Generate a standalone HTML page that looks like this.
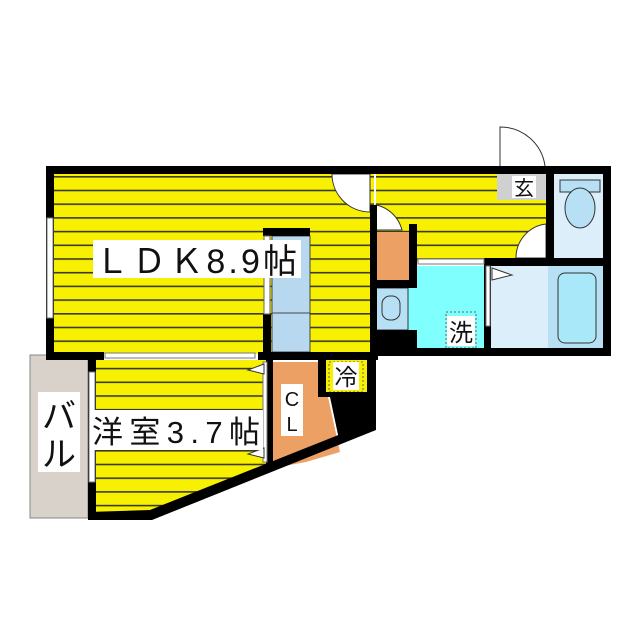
<!DOCTYPE html>
<html><head><meta charset="utf-8"><style>
html,body{margin:0;padding:0;background:#fff;width:640px;height:640px;overflow:hidden}
text{font-family:"Liberation Sans","Noto Sans CJK JP",sans-serif}
</style></head><body>
<svg width="640" height="640" viewBox="0 0 640 640" xmlns="http://www.w3.org/2000/svg">
<defs>
<pattern id="st" x="0" y="176" width="10" height="13.7" patternUnits="userSpaceOnUse">
<rect width="10" height="13.7" fill="#f7f000"/>
<rect y="0" width="10" height="1.6" fill="#3a3a20"/>
</pattern>
</defs>
<!-- balcony -->
<rect x="30" y="355" width="58" height="163" fill="#d8d2ca" stroke="#888" stroke-width="1"/>
<!-- LDK -->
<rect x="54" y="174" width="320" height="180" fill="url(#st)"/>
<!-- right top hallway -->
<rect x="376" y="174" width="172" height="88" fill="url(#st)"/>
<!-- western room -->
<polygon points="95,360 268,360 268,468 150,512 95,512" fill="url(#st)"/>
<!-- 冷 -->
<rect x="325" y="358" width="42" height="36" fill="#f7f000"/>
<rect x="329" y="362" width="34" height="30" fill="none" stroke="#666" stroke-dasharray="2,2"/>
<!-- CL -->
<polygon points="273,362 320,362 320,397 328,397 340,452 306,462 273,468" fill="#eda064"/>
<!-- black chunk -->
<polygon points="320,392 376,392 376,428 340,444 330,397 320,397" fill="#000"/>
<!-- orange storage -->
<rect x="376" y="232" width="33" height="48" fill="#eda064"/>
<!-- washroom -->
<rect x="417" y="266" width="70" height="84" fill="#80ffff"/>
<rect x="376" y="286" width="45" height="64" fill="#80ffff"/>
<rect x="376" y="288" width="32" height="42" fill="#b8e0f5" stroke="#333" stroke-width="1"/>
<rect x="382" y="296" width="18" height="24" rx="8" fill="#b8e0f5" stroke="#333"/>
<rect x="446" y="312" width="30" height="36" fill="none" stroke="#666" stroke-dasharray="2,2"/>
<rect x="386" y="330" width="31" height="26" fill="#000"/>
<!-- bath -->
<rect x="490" y="266" width="113" height="84" fill="#dbeefa"/>
<rect x="548" y="266" width="55" height="84" fill="#b8e0f5"/>
<rect x="558" y="273" width="38" height="70" rx="7" fill="#a8e8f8" stroke="#333"/>
<polygon points="492,268 512,275 492,280" fill="#fff" stroke="#333"/>
<!-- toilet -->
<rect x="553" y="174" width="50" height="86" fill="#dbeefa"/>
<rect x="560" y="180" width="40" height="12" fill="#b8e0f5" stroke="#333"/>
<ellipse cx="580" cy="208" rx="15" ry="20" fill="#b8e0f5" stroke="#333"/>
<!-- genkan -->
<rect x="497" y="174" width="50" height="26" fill="#d0d0d0"/>
<path d="M500,166 L500,127 A45,45 0 0 1 545,166" fill="#fff" stroke="#333"/>
<!-- fridge/kitchen column -->
<rect x="272" y="236" width="38" height="116" fill="#b8d8f0" stroke="#444" stroke-width="1"/>
<line x1="272" y1="313" x2="310" y2="313" stroke="#444"/>
<rect x="263" y="228" width="47" height="8" fill="#000"/>
<rect x="263" y="314" width="8" height="40" fill="#000"/>
<rect x="264" y="236" width="6" height="78" fill="#fff" stroke="#666"/>
<!-- door arcs -->
<path d="M370,174 L332,174 A38,38 0 0 0 370,212 Z" fill="#fff" stroke="#333"/>
<path d="M376,205 A34,34 0 0 1 402,230 L376,230 Z" fill="#fff" stroke="#333"/>
<path d="M546,224 A34,34 0 0 0 516,258 L546,258 Z" fill="#fff" stroke="#333"/>
<!-- walls -->
<g fill="#000">
<rect x="46" y="166" width="564" height="8"/>
<rect x="46" y="166" width="8" height="194"/>
<rect x="603" y="166" width="8" height="190"/>
<rect x="46" y="352" width="58" height="8"/>
<rect x="258" y="352" width="120" height="8"/>
<rect x="370" y="205" width="7" height="135"/>
<rect x="370" y="330" width="16" height="26"/>
<rect x="384" y="348" width="227" height="8"/>
<rect x="546" y="166" width="8" height="92"/>
<rect x="484" y="258" width="127" height="8"/>
<rect x="409" y="224" width="8" height="64"/>
<rect x="376" y="280" width="41" height="8"/>
<rect x="484" y="258" width="7" height="98"/>
<rect x="88" y="352" width="8" height="168"/>
<rect x="266" y="360" width="7" height="110"/>
<rect x="318" y="352" width="8" height="45"/>
<rect x="367" y="352" width="9" height="76"/>
</g>
<polygon points="88,512 150,510 376,420 376,430 152,520 88,520" fill="#000"/>
<!-- windows / openings -->
<rect x="47" y="218" width="6" height="100" fill="#fff" stroke="#777"/>
<rect x="89" y="372" width="6" height="110" fill="#fff" stroke="#777"/>
<rect x="105" y="353" width="150" height="5" fill="#fff" stroke="#777"/>
<rect x="418" y="259" width="66" height="5" fill="#fff" stroke="#777"/>
<rect x="486" y="266" width="4" height="60" fill="#fff" stroke="#777"/>
<rect x="263" y="362" width="4" height="100" fill="#fff" stroke="#777"/>
<polygon points="264,364 248,370 264,374" fill="#fff" stroke="#333"/>
<polygon points="264,448 248,454 264,458" fill="#fff" stroke="#333"/>
<!-- labels -->
<rect x="93" y="240" width="208" height="38" fill="#fff"/>
<text x="95" y="273" font-size="34" fill="#111" textLength="202">ＬＤＫ8.9帖</text>
<rect x="90" y="410" width="173" height="40" fill="#fff"/>
<text x="92" y="443" font-size="31" fill="#111" textLength="168">洋室3.7帖</text>
<rect x="38" y="392" width="42" height="80" fill="#fff"/>
<text x="59" y="428" font-size="34" fill="#111" text-anchor="middle">バ</text>
<text x="59" y="466" font-size="34" fill="#111" text-anchor="middle">ル</text>
<rect x="281" y="384" width="22" height="52" fill="#fff"/>
<text x="292" y="406" font-size="20" fill="#111" text-anchor="middle">C</text>
<text x="292" y="431" font-size="20" fill="#111" text-anchor="middle">L</text>
<rect x="333" y="362" width="26" height="28" fill="#fff"/>
<text x="346" y="385" font-size="23" fill="#111" text-anchor="middle">冷</text>
<rect x="447" y="316" width="28" height="30" fill="#fff"/>
<text x="461" y="341" font-size="24" fill="#111" text-anchor="middle">洗</text>
<rect x="512" y="176" width="24" height="22" fill="#fff"/>
<text x="524" y="195" font-size="20" fill="#111" text-anchor="middle">玄</text>
</svg>
</body></html>
